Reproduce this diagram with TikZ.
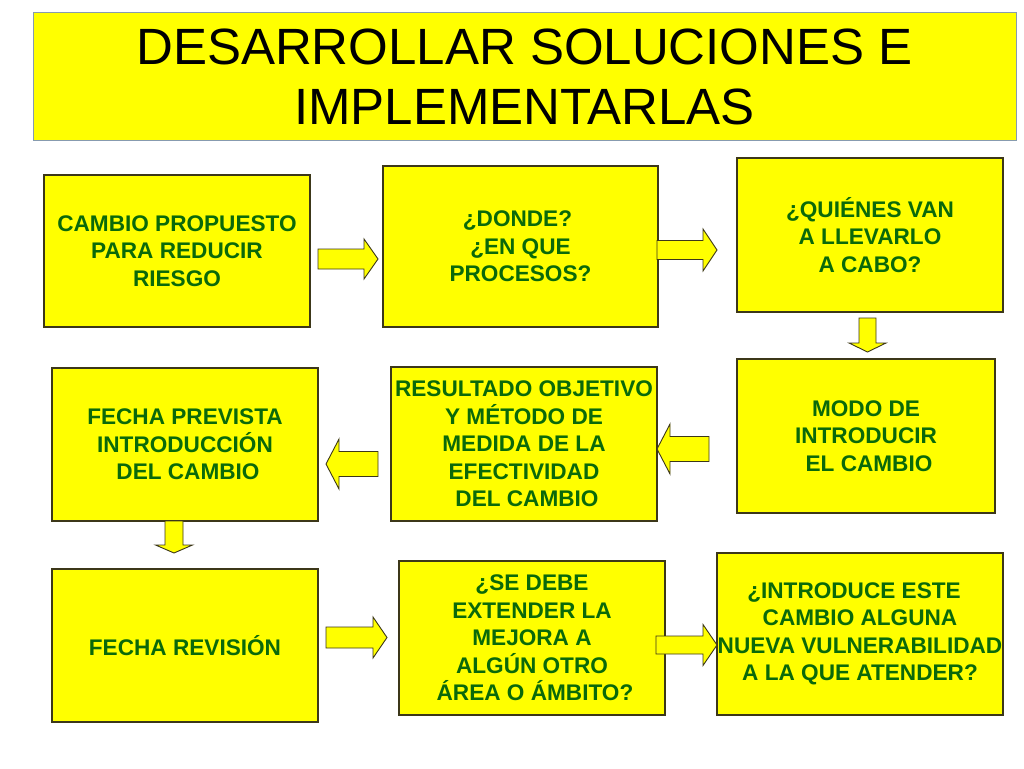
\documentclass[tikz,border=0pt]{standalone}
\usepackage{fontspec}
\setmainfont{Liberation Sans}
\definecolor{boxyellow}{RGB}{255,255,0}
\definecolor{txtgreen}{RGB}{10,105,10}
\definecolor{boxline}{RGB}{60,55,25}
\definecolor{titleline}{RGB}{135,155,175}
\newcommand\blockarrow[7]{%
  \draw[arrowbox, shift={(#1,#2)}, rotate=#3]
    (0,-#5) -- (#4-#7,-#5) -- (#4-#7,-#6) -- (#4,0) -- (#4-#7,#6) -- (#4-#7,#5) -- (0,#5) -- cycle;}
\begin{document}
\begin{tikzpicture}[x=1pt,y=-1pt,
  box/.style={draw=boxline, line width=1.1pt, fill=boxyellow, inner sep=0pt, align=center,
    text=txtgreen, font=\bfseries\fontsize{22.6}{27.5}\selectfont},
  arrowbox/.style={draw=boxline, line width=0.9pt, fill=boxyellow, line join=miter}]
\path[use as bounding box, fill=white] (0,0) rectangle (1024,768);

\node[draw=titleline, fill=boxyellow, line width=1pt, minimum width=983pt, minimum height=127pt,
  inner sep=0pt, align=center, font=\fontsize{51}{60}\selectfont] (title) at (524.5,76.5)
  {DESARROLLAR SOLUCIONES E\\IMPLEMENTARLAS};

\node[box, minimum width=266pt, minimum height=152pt] (A) at (177,251)
  {CAMBIO PROPUESTO\\PARA REDUCIR\\RIESGO};
\node[box, minimum width=275pt, minimum height=161pt] (B) at (520.5,246.5)
  {¿DONDE?\hspace*{6pt}\\¿EN QUE\hspace*{8pt}\\PROCESOS?};
\node[box, minimum width=266pt, minimum height=154pt] (C) at (870,235)
  {¿QUIÉNES VAN\\A LLEVARLO\\A CABO?};
\node[box, minimum width=258pt, minimum height=154pt] (D) at (866,436)
  {MODO DE\\INTRODUCIR\\\hspace*{6pt}EL CAMBIO};
\node[box, minimum width=266pt, minimum height=154pt] (E) at (524,444)
  {RESULTADO OBJETIVO\\Y MÉTODO DE\\MEDIDA DE LA\\EFECTIVIDAD\\\hspace*{6pt}DEL CAMBIO};
\node[box, minimum width=266pt, minimum height=153pt] (F) at (185,444.5)
  {FECHA PREVISTA\\INTRODUCCIÓN\hspace*{6pt}\\\hspace*{6pt}DEL CAMBIO};
\node[box, minimum width=266pt, minimum height=153pt] (G) at (185,645.5)
  {FECHA REVISIÓN};
\node[box, minimum width=266pt, minimum height=154pt] (H) at (532,638)
  {¿SE DEBE\\EXTENDER LA\\MEJORA A\\ALGÚN OTRO\hspace*{6pt}\\\hspace*{6pt}ÁREA O ÁMBITO?};
\node[box, minimum width=286pt, minimum height=162pt] (I) at (860,634)
  {¿INTRODUCE ESTE\hspace*{12pt}\\CAMBIO ALGUNA\hspace*{12pt}\\NUEVA VULNERABILIDAD\\A LA QUE ATENDER?};

% block arrows: tail x, tail y, rotation, length, shaft half, head half, head length
\blockarrow{318}{259}{0}{60}{10}{20}{14}
\blockarrow{657}{250}{0}{60}{9.5}{21}{14}
\blockarrow{867.5}{318}{-90}{34}{8.5}{18.5}{9}
\blockarrow{709}{449}{180}{52}{12.5}{25}{13}
\blockarrow{378}{464}{180}{52}{12.5}{25}{13}
\blockarrow{174}{521}{-90}{32}{9}{18.5}{8}
\blockarrow{326}{637.5}{0}{61}{10.5}{20.5}{14}
\blockarrow{656}{645}{0}{61}{9}{20.5}{14}
\end{tikzpicture}
\end{document}
